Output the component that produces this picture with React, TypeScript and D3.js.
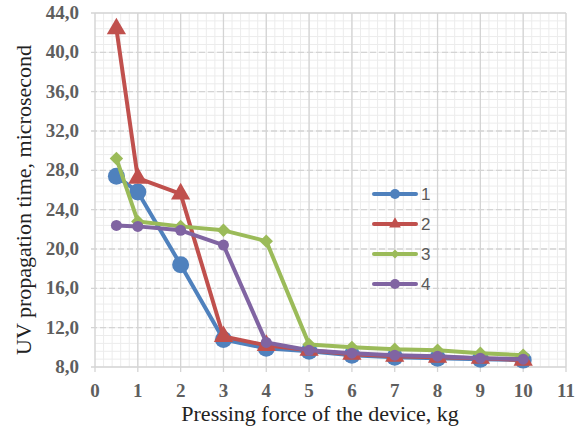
import React, { useEffect, useRef } from 'react';
import * as d3 from 'd3';

// force values, kg
const force = [0.5, 1, 2, 3, 4, 5, 6, 7, 8, 9, 10];

// UV propagation time, microsecond
const series1 = [27.4, 25.8, 18.4, 10.8, 9.9, 9.6, 9.2, 9.0, 8.9, 8.8, 8.7];
const series2 = [42.4, 27.2, 25.6, 11.1, 10.2, 9.7, 9.3, 9.1, 9.0, 8.9, 8.7];
const series3 = [29.2, 22.8, 22.3, 21.9, 20.8, 10.3, 10.0, 9.8, 9.7, 9.4, 9.2];
const series4 = [22.4, 22.3, 21.9, 20.4, 10.5, 9.7, 9.4, 9.2, 9.1, 8.9, 8.8];

const seriesNames = ['1', '2', '3', '4'];
const xTicks = [0, 1, 2, 3, 4, 5, 6, 7, 8, 9, 10, 11];
const yTicks = [8, 12, 16, 20, 24, 28, 32, 36, 40, 44];

const colors = ['#4f81bd', '#c0504d', '#9bbb59', '#8064a2'];
const markers = ['circle', 'triangle', 'diamond', 'smallcircle'];

const serif = "'Liberation Serif', 'Times New Roman', serif";

const App = () => {
  const ref = useRef<SVGSVGElement>(null);

  useEffect(() => {
    const svg = d3.select(ref.current);
    svg.selectAll('*').remove();

    const width = 583, height = 431;
    const margins = { top: 13, left: 95, right: 17, bottom: 64 };

    const xScale = d3.scaleLinear().domain([0, 11]).range([margins.left, width - margins.right]);
    const yScale = d3.scaleLinear().domain([8, 44]).range([height - margins.bottom, margins.top]);

    const g = svg.append('g');

    // minor grid
    const minorX = d3.range(0, 11.001, 0.2);
    const minorY = d3.range(8, 44.001, 0.8);
    g.selectAll('.minor-x').data(minorX).enter().append('line')
      .attr('x1', d => xScale(d)).attr('x2', d => xScale(d))
      .attr('y1', yScale(8)).attr('y2', yScale(44))
      .attr('stroke', '#ececec').attr('stroke-width', 1);
    g.selectAll('.minor-y').data(minorY).enter().append('line')
      .attr('x1', xScale(0)).attr('x2', xScale(11))
      .attr('y1', d => yScale(d)).attr('y2', d => yScale(d))
      .attr('stroke', '#ececec').attr('stroke-width', 1);

    // major grid
    g.selectAll('.major-x').data(xTicks).enter().append('line')
      .attr('x1', d => xScale(d)).attr('x2', d => xScale(d))
      .attr('y1', yScale(8) + 5).attr('y2', yScale(44))
      .attr('stroke', '#d4d4d4').attr('stroke-width', 1.3);
    g.selectAll('.major-y').data(yTicks).enter().append('line')
      .attr('x1', xScale(0) - 4).attr('x2', xScale(11))
      .attr('y1', d => yScale(d)).attr('y2', d => yScale(d))
      .attr('stroke', '#d4d4d4').attr('stroke-width', 1.3)
      .attr('stroke-dasharray', d => (d === 8 || d === 44 ? null : '6,3'));

    // tick labels
    g.selectAll('.ytick').data(yTicks).enter().append('text')
      .attr('x', xScale(0) - 16).attr('y', d => yScale(d) + 6)
      .attr('text-anchor', 'end')
      .style('font-family', serif).style('font-weight', 'bold')
      .attr('font-size', 19).attr('fill', '#5e5e5e')
      .text(d => d.toFixed(1).replace('.', ','));
    g.selectAll('.xtick').data(xTicks).enter().append('text')
      .attr('x', d => xScale(d)).attr('y', yScale(8) + 30)
      .attr('text-anchor', 'middle')
      .style('font-family', serif).style('font-weight', 'bold')
      .attr('font-size', 19).attr('fill', '#5e5e5e')
      .text(d => d);

    // axis titles
    svg.append('text')
      .attr('x', 320).attr('y', 421)
      .attr('text-anchor', 'middle')
      .style('font-family', serif)
      .attr('font-size', 22).attr('fill', '#222')
      .text('Pressing force of the device, kg');
    svg.append('text')
      .attr('transform', `translate(31, ${(yScale(8) + yScale(44)) / 2 + 10}) rotate(-90)`)
      .attr('text-anchor', 'middle')
      .style('font-family', serif)
      .attr('font-size', 22).attr('fill', '#222')
      .text('UV propagation time, microsecond');

    const allSeries = [series1, series2, series3, series4];
    const line = d3.line<number>().x((_, i) => xScale(force[i])).y(d => yScale(d));

    const drawMarker = (sel: any, type: string, color: string, x: number, y: number) => {
      if (type === 'circle') {
        sel.append('circle').attr('cx', x).attr('cy', y).attr('r', 8.5).attr('fill', color);
      } else if (type === 'smallcircle') {
        sel.append('circle').attr('cx', x).attr('cy', y).attr('r', 5.5).attr('fill', color);
      } else if (type === 'triangle') {
        sel.append('path')
          .attr('d', d3.symbol().type(d3.symbolTriangle).size(160)())
          .attr('transform', `translate(${x},${y})`).attr('fill', color);
      } else {
        sel.append('path')
          .attr('d', d3.symbol().type(d3.symbolSquare).size(90)())
          .attr('transform', `translate(${x},${y}) rotate(45)`).attr('fill', color);
      }
    };

    allSeries.forEach((s, k) => {
      const sg = g.append('g');
      sg.append('path').datum(s).attr('d', line)
        .attr('fill', 'none').attr('stroke', colors[k]).attr('stroke-width', 4)
        .attr('stroke-linejoin', 'round');
      s.forEach((v, i) => drawMarker(sg, markers[k], colors[k], xScale(force[i]), yScale(v)));
    });

    // legend
    const legend = svg.append('g');
    seriesNames.forEach((name, k) => {
      const y = 194 + k * 30;
      legend.append('line').attr('x1', 374).attr('x2', 416).attr('y1', y).attr('y2', y)
        .attr('stroke', colors[k]).attr('stroke-width', 4).attr('stroke-linecap', 'round');
      const lg = legend.append('g');
      if (markers[k] === 'triangle') {
        lg.append('path').attr('d', d3.symbol().type(d3.symbolTriangle).size(60)())
          .attr('transform', `translate(395,${y})`).attr('fill', colors[k]);
      } else if (markers[k] === 'diamond') {
        lg.append('path').attr('d', d3.symbol().type(d3.symbolSquare).size(40)())
          .attr('transform', `translate(395,${y}) rotate(45)`).attr('fill', colors[k]);
      } else {
        lg.append('circle').attr('cx', 395).attr('cy', y).attr('r', 5).attr('fill', colors[k]);
      }
      legend.append('text').attr('x', 421).attr('y', y + 6)
        .style('font-family', "'Liberation Sans', Arial, sans-serif")
        .attr('font-size', 17).attr('fill', '#595959').text(name);
    });
  }, []);

  return (
    <svg ref={ref} width={583} height={431}
      style={{ position: 'absolute', left: 0, top: 0, background: '#fff' }} />
  );
};

export default App;
